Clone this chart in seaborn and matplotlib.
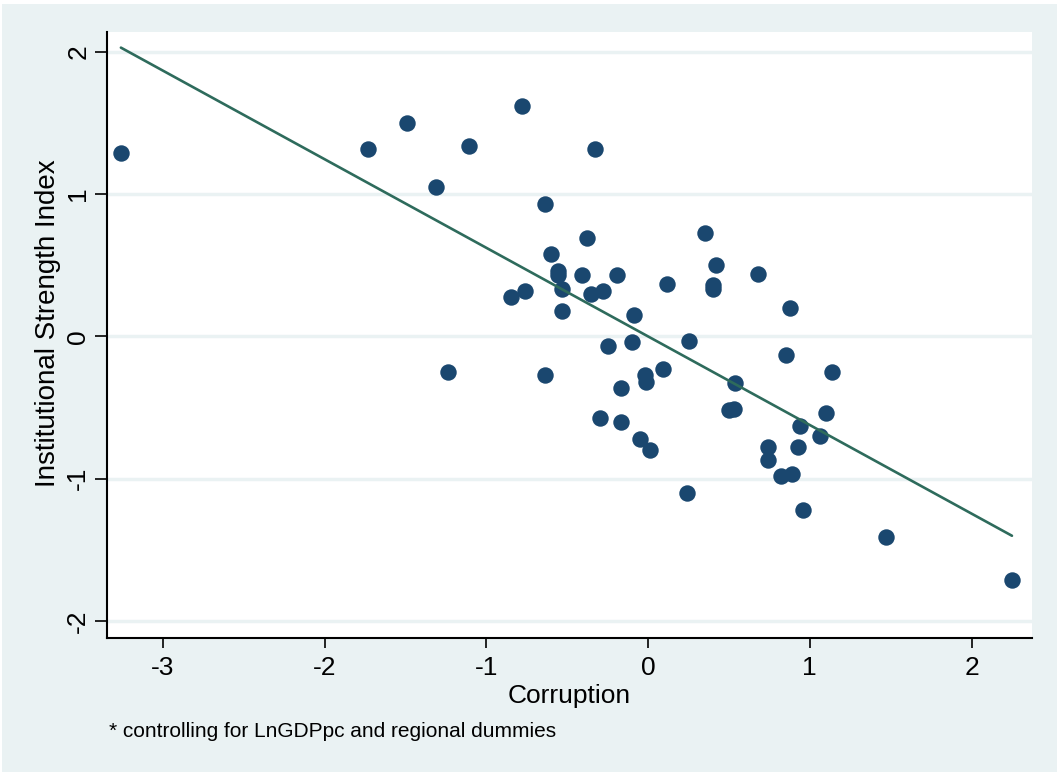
import numpy as np
import pandas as pd
import seaborn as sns
import matplotlib.pyplot as plt
from matplotlib.patches import Rectangle

# Residualised values (controlling for LnGDPpc and regional dummies)
corruption = [-3.26, -1.73, -1.49, -1.11, -1.31, -0.78, -0.33, -0.64, -0.60, -0.38,
              -0.56, -0.56, -0.41, -0.19, -0.85, -0.76, -0.53, -0.35, -0.28, -0.53,
              -0.09, 0.12, 0.35, 0.42, 0.40, 0.40, 0.68, 0.88, -1.24, -0.64,
              -0.25, -0.10, 0.25, -0.02, -0.01, 0.09, -0.17, -0.30, -0.17, -0.05,
              0.01, 0.85, 1.14, 0.54, 0.50, 0.53, 1.10, 0.94, 1.06, 0.74,
              0.93, 0.74, 0.82, 0.89, 0.24, 0.96, 1.47, 2.25]
institutions = [1.29, 1.32, 1.50, 1.34, 1.05, 1.62, 1.32, 0.93, 0.58, 0.69,
                0.46, 0.43, 0.43, 0.43, 0.28, 0.32, 0.33, 0.30, 0.32, 0.18,
                0.15, 0.37, 0.73, 0.50, 0.36, 0.33, 0.44, 0.20, -0.25, -0.27,
                -0.07, -0.04, -0.03, -0.27, -0.32, -0.23, -0.36, -0.57, -0.60, -0.72,
                -0.80, -0.13, -0.25, -0.33, -0.52, -0.51, -0.54, -0.63, -0.70, -0.78,
                -0.78, -0.87, -0.98, -0.97, -1.10, -1.22, -1.41, -1.71]

x_ticks = [-3, -2, -1, 0, 1, 2]
y_ticks = [-2, -1, 0, 1, 2]

df = pd.DataFrame({"Corruption": corruption, "Institutional Strength Index": institutions})

bg = "#eaf2f3"
navy = "#1a476f"
green = "#2e6b5c"

sns.set_style("white")
plt.rcParams["font.family"] = ["Liberation Sans", "DejaVu Sans"]

fig = plt.figure(figsize=(10.57, 7.72), dpi=100)
fig.patch.set_facecolor("white")
# Stata-like outer region, leaving a thin white strip top/left
fig.patches.append(Rectangle((2 / 1057, 0), 1, 1 - 4 / 772, transform=fig.transFigure,
                             facecolor=bg, edgecolor="none", zorder=-10))

ax = fig.add_axes([107 / 1057, 134 / 772, 925 / 1057, 606 / 772])
ax.set_zorder(1)
ax.set_facecolor("white")

sns.scatterplot(data=df, x="Corruption", y="Institutional Strength Index", ax=ax,
                color=navy, s=140, linewidth=0, zorder=3)
sns.regplot(data=df, x="Corruption", y="Institutional Strength Index", ax=ax,
            scatter=False, ci=None, color=green, line_kws={"linewidth": 1.9, "zorder": 4})

ax.set_xlim(-3.346, 2.374)
ax.set_ylim(-2.12, 2.14)
ax.set_xticks(x_ticks)
ax.set_yticks(y_ticks)
ax.set_xticklabels([str(t) for t in x_ticks])
ax.set_yticklabels([str(t) for t in y_ticks], rotation=90, va="center")
ax.tick_params(axis="both", which="major", bottom=True, left=True, direction="out",
               width=1.2, color="black", labelsize=19, labelcolor="black")
ax.tick_params(axis="x", length=7.2, pad=6)
ax.tick_params(axis="y", length=8.6, pad=3.5)
ax.grid(axis="y", color=bg, linewidth=2.5)
ax.grid(axis="x", visible=False)

for side in ["top", "right"]:
    ax.spines[side].set_visible(False)
for side in ["left", "bottom"]:
    ax.spines[side].set_color("black")
    ax.spines[side].set_linewidth(1.5)

ax.set_xlabel("")
ax.set_ylabel("")
fig.text(569 / 1057, 1 - 703 / 772, "Corruption", fontsize=19, ha="center", va="baseline",
         color="black")
fig.text(48 / 1057, 1 - 323 / 772, "Institutional Strength Index", fontsize=20,
         rotation=90, ha="center", va="center", color="black")
fig.text(109 / 1057, 1 - 737 / 772, "* controlling for LnGDPpc and regional dummies",
         fontsize=15, ha="left", va="baseline", color="black")

fig.savefig("out.png", dpi=100, facecolor=fig.get_facecolor())
